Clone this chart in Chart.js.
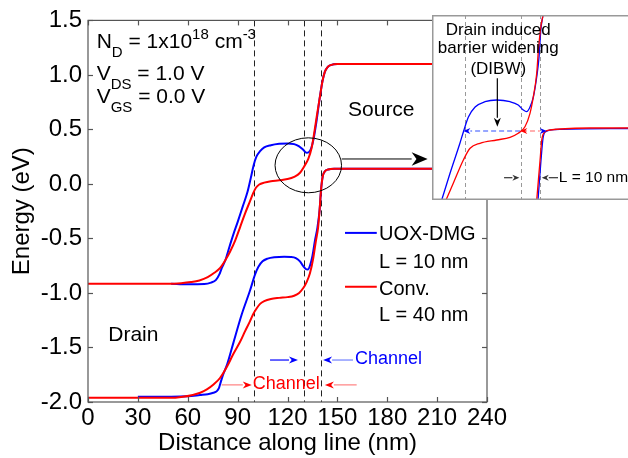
<!DOCTYPE html>
<html>
<head>
<meta charset="utf-8">
<script src="https://cdn.jsdelivr.net/npm/chart.js@4.4.1/dist/chart.umd.min.js"></script>
<style>
    html, body { margin: 0; padding: 0; background: #fff; }
    #wrap { position: relative; width: 628px; height: 458px; overflow: hidden; }
    #main { position: absolute; left: 0; top: 0; }
    #inset { position: absolute; left: 432px; top: 15px; }
</style>
</head>
<body>
<div id="wrap">
    <canvas id="main" width="628" height="458"></canvas>
    <canvas id="inset" width="196" height="185"></canvas>
</div>
<script>
// === DATA (main plot: distance in nm, energy in eV) ===
const convCB = [
    [0, -0.915], [48, -0.915], [56, -0.91], [62, -0.9], [67, -0.885], [72, -0.855],
    [76, -0.815], [79.5, -0.77], [82.6, -0.7], [85.5, -0.62], [88.5, -0.52], [91.4, -0.4],
    [94.5, -0.27], [97.4, -0.16], [99.5, -0.08], [101, -0.035], [103, -0.005], [106, 0.012],
    [110, 0.025], [115, 0.033], [120, 0.045], [124, 0.065], [127.4, 0.1], [130, 0.16],
    [132.5, 0.23], [134.5, 0.33], [136.2, 0.48], [137.8, 0.64], [139.5, 0.8], [141, 0.94],
    [142.5, 1.03], [144, 1.07], [146, 1.09], [150, 1.1], [240, 1.1]
];
const uoxCB = [
    [50, -0.915], [60, -0.92], [70, -0.918], [74, -0.905], [77, -0.88], [79, -0.83],
    [80.5, -0.77], [82.6, -0.7], [85, -0.58], [87.5, -0.46], [90, -0.35], [93, -0.21],
    [96, -0.07], [98, 0.06], [99.6, 0.17], [101.3, 0.25], [103.5, 0.3], [106, 0.335],
    [110, 0.355], [115, 0.368], [120, 0.372], [124, 0.365], [127, 0.345], [129.3, 0.315],
    [131.5, 0.285], [132.8, 0.29], [134.3, 0.33], [135.8, 0.42], [137.3, 0.56], [139.5, 0.8],
    [141, 0.94], [142.5, 1.03], [144, 1.07], [146, 1.09], [150, 1.1], [240, 1.1]
];
const convVB = [
    [0, -1.962], [50, -1.962], [56, -1.954], [63, -1.935], [67.5, -1.915], [71.5, -1.885],
    [75.5, -1.84], [79.4, -1.78], [83.8, -1.67], [87.4, -1.56], [91.4, -1.45], [94.5, -1.35],
    [97.4, -1.26], [99.5, -1.19], [101.5, -1.14], [103.5, -1.1], [106, -1.075], [110, -1.055],
    [115, -1.045], [120, -1.038], [124, -1.025], [127, -1.0], [129.5, -0.955], [131.5, -0.9],
    [133.5, -0.82], [135.5, -0.68], [137, -0.53], [138.4, -0.4], [139.3, -0.24], [140.2, -0.05],
    [141.2, 0.07], [142.5, 0.115], [144.5, 0.133], [148, 0.14], [240, 0.14]
];
const uoxVB = [
    [30, -1.952], [50, -1.952], [60, -1.948], [67.4, -1.936], [72, -1.928], [75.4, -1.915],
    [77.5, -1.9], [78.8, -1.87], [79.8, -1.82], [81, -1.76], [83.8, -1.65], [87.4, -1.46],
    [92.4, -1.2], [97.4, -0.98], [100.5, -0.83], [102.5, -0.76], [105, -0.71], [108, -0.685],
    [112, -0.672], [118, -0.668], [122, -0.67], [125, -0.68], [127.5, -0.71], [129.5, -0.755],
    [131, -0.78], [132.2, -0.785], [133.5, -0.75], [135, -0.66], [136.5, -0.52], [138, -0.4],
    [139.3, -0.24], [140.2, -0.05], [141.2, 0.07], [142.5, 0.115], [144.5, 0.133], [148, 0.14],
    [240, 0.14]
];
const channelEdges = [100, 130, 140];
const xRange = [0, 240];
const yRange = [-2, 1.5];

// === DATA (inset, zoomed barrier region) ===
const insetUoxCB = [
    [87.5, 0], [92, 0.27], [97.3, 0.57], [99.1, 0.68], [101.8, 0.83], [105.4, 0.93],
    [110.7, 0.983], [117, 1.0], [124.1, 0.983], [128.5, 0.95], [131.2, 0.9], [133, 0.883],
    [134.8, 0.93], [136.6, 1.03], [138.4, 1.23], [139.6, 1.42], [140.6, 1.7], [141.6, 1.83],
    [144, 2.0]
];
const insetConvCB = [
    [89.8, 0], [93.7, 0.167], [99.1, 0.4], [102.7, 0.517], [108, 0.567], [117, 0.6],
    [124.1, 0.627], [128.5, 0.667], [132.1, 0.733], [134.8, 0.867], [136.6, 1.033],
    [138.4, 1.267], [139.3, 1.5], [140.6, 1.73], [141.6, 1.83], [144, 2.0]
];
const insetConvVB = [
    [138.4, 0], [140.2, 0.4], [141.1, 0.6], [142.9, 0.683], [145.5, 0.7], [150.9, 0.71],
    [167, 0.72], [188, 0.72]
];
const insetUoxVB = [
    [139.1, 0], [140.7, 0.4], [141.8, 0.62], [143.4, 0.685], [148.2, 0.705], [188, 0.715]
];
const insetEdges = [100, 130, 140];
const insetXRange = [82.3, 187.3];
const insetYRange = [0, 1.85];

const BLUE = "#0000ff";
const RED = "#ff0000";
const AXIS = "#555";
const FONT = "'Liberation Sans', Arial, sans-serif";

Chart.defaults.font.family = FONT;
Chart.defaults.color = "#000";

const toPts = (arr) => arr.map(([x, y]) => ({ x, y }));

function line(ctx, x1, y1, x2, y2) {
    ctx.beginPath();
    ctx.moveTo(x1, y1);
    ctx.lineTo(x2, y2);
    ctx.stroke();
}

// arrow with filled head at (x2, y2)
function arrow(ctx, x1, y1, x2, y2, lineColor, headColor, len, half, lw) {
    const ang = Math.atan2(y2 - y1, x2 - x1);
    const bx = x2 - Math.cos(ang) * len;
    const by = y2 - Math.sin(ang) * len;
    ctx.save();
    ctx.strokeStyle = lineColor;
    ctx.lineWidth = lw || 1;
    line(ctx, x1, y1, bx, by);
    ctx.fillStyle = headColor;
    ctx.beginPath();
    ctx.moveTo(x2, y2);
    ctx.lineTo(bx - Math.sin(ang) * half, by + Math.cos(ang) * half);
    ctx.lineTo(bx + Math.cos(ang) * len * 0.3, by + Math.sin(ang) * len * 0.3);
    ctx.lineTo(bx + Math.sin(ang) * half, by - Math.cos(ang) * half);
    ctx.closePath();
    ctx.fill();
    ctx.restore();
}

// text with sub/superscripts, parts = [[text, "n" | "sub" | "sup"]]
function richText(ctx, x, y, parts, size, subSize) {
    ctx.textBaseline = "alphabetic";
    ctx.textAlign = "left";
    let cx = x;
    parts.forEach(([t, kind]) => {
        const s = kind === "n" ? size : subSize;
        const dy = kind === "sub" ? size * 0.42 : kind === "sup" ? -size * 0.42 : 0;
        ctx.font = `${s}px ${FONT}`;
        ctx.fillText(t, cx, y + dy);
        cx += ctx.measureText(t).width;
    });
}

// === MAIN PLOT DECORATIONS ===
const mainDecor = {
    id: "mainDecor",
    beforeDatasetsDraw(chart) {
        const { ctx, chartArea: a, scales: { x } } = chart;
        ctx.save();
        ctx.strokeStyle = "#222";
        ctx.lineWidth = 1;
        ctx.setLineDash([6, 4]);
        channelEdges.forEach((v) => {
            const px = Math.round(x.getPixelForValue(v)) + 0.5;
            line(ctx, px, a.top, px, a.bottom);
        });
        ctx.restore();
    },
    afterDraw(chart) {
        const { ctx, chartArea: a, scales: { x, y } } = chart;
        const X = (v) => x.getPixelForValue(v);
        const Y = (v) => y.getPixelForValue(v);
        ctx.save();

        // frame + inward ticks
        ctx.strokeStyle = AXIS;
        ctx.lineWidth = 1.2;
        ctx.strokeRect(a.left, a.top, a.right - a.left, a.bottom - a.top);
        x.ticks.forEach((t) => {
            const px = Math.round(X(t.value)) + 0.5;
            line(ctx, px, a.bottom, px, a.bottom - 5);
            line(ctx, px, a.top, px, a.top + 5);
        });
        y.ticks.forEach((t) => {
            const py = Math.round(Y(t.value)) + 0.5;
            line(ctx, a.left, py, a.left + 5, py);
            line(ctx, a.right, py, a.right - 5, py);
        });

        // ellipse around the barrier and arrow to the inset
        ctx.strokeStyle = "#000";
        ctx.lineWidth = 1;
        ctx.beginPath();
        ctx.ellipse(X(132.5), Y(0.171), X(152.5) - X(132.5), Y(0) - Y(0.252), 0, 0, Math.PI * 2);
        ctx.stroke();
        arrow(ctx, X(152.6), Y(0.229), X(204.3), Y(0.229), "#000", "#000", 16, 6.7, 1);

        // parameter block
        ctx.fillStyle = "#000";
        richText(ctx, X(5.2), Y(1.245), [["N", "n"], ["D", "sub"], [" = 1x10", "n"], ["18", "sup"], [" cm", "n"], ["-3", "sup"]], 21, 15);
        richText(ctx, X(5.2), Y(0.956), [["V", "n"], ["DS", "sub"], [" = 1.0 V", "n"]], 21, 15);
        richText(ctx, X(5.2), Y(0.742), [["V", "n"], ["GS", "sub"], [" = 0.0 V", "n"]], 21, 15);

        ctx.font = `21px ${FONT}`;
        ctx.fillText("Source", X(156.4), Y(0.62));
        ctx.fillText("Drain", X(12.2), Y(-1.44));

        // legend
        ctx.lineWidth = 2;
        ctx.strokeStyle = BLUE;
        line(ctx, X(154.6), Y(-0.449), X(173.7), Y(-0.449));
        ctx.strokeStyle = RED;
        line(ctx, X(154.6), Y(-0.943), X(173.7), Y(-0.943));
        ctx.font = `20px ${FONT}`;
        ctx.textBaseline = "middle";
        ctx.fillStyle = "#000";
        ctx.fillText("UOX-DMG", X(175), Y(-0.464));
        ctx.fillText("L = 10 nm", X(175), Y(-0.72));
        ctx.fillText("Conv.", X(175), Y(-0.964));
        ctx.fillText("L = 40 nm", X(175), Y(-1.209));

        // channel markers
        arrow(ctx, X(109.5), Y(-1.615), X(126.3), Y(-1.615), BLUE, BLUE, 9, 3.5, 1.2);
        arrow(ctx, X(159.4), Y(-1.615), X(141.4), Y(-1.615), "#7080ff", BLUE, 9, 3.5, 1.2);
        arrow(ctx, X(80.4), Y(-1.843), X(98.5), Y(-1.843), "#ff8080", RED, 9, 3.5, 1.2);
        arrow(ctx, X(161.6), Y(-1.843), X(142.5), Y(-1.843), "#ff8080", RED, 9, 3.5, 1.2);
        ctx.font = `18px ${FONT}`;
        ctx.fillStyle = BLUE;
        ctx.fillText("Channel", X(160.6), Y(-1.605));
        ctx.fillStyle = RED;
        ctx.fillText("Channel", X(99.1), Y(-1.834));

        ctx.restore();
    }
};

new Chart(document.getElementById("main"), {
    type: "line",
    data: {
        datasets: [
            { label: "Conv. CB", data: toPts(convCB), borderColor: RED },
            { label: "Conv. VB", data: toPts(convVB), borderColor: RED },
            { label: "UOX-DMG CB", data: toPts(uoxCB), borderColor: BLUE },
            { label: "UOX-DMG VB", data: toPts(uoxVB), borderColor: BLUE }
        ]
    },
    options: {
        responsive: false,
        animation: false,
        devicePixelRatio: 1,
        layout: { padding: { left: 0, right: 141, top: 19, bottom: 0 } },
        plugins: { legend: { display: false }, tooltip: { enabled: false } },
        elements: {
            point: { radius: 0 },
            line: { borderWidth: 2, fill: false, cubicInterpolationMode: "monotone" }
        },
        scales: {
            x: {
                type: "linear",
                min: xRange[0],
                max: xRange[1],
                ticks: { stepSize: 30, font: { size: 24 }, color: "#000", padding: 2, maxRotation: 0 },
                grid: { display: false, drawTicks: false },
                border: { display: false },
                title: { display: true, text: "Distance along line (nm)", font: { size: 24 }, color: "#000", padding: 0 },
                afterFit: (s) => { s.height = 56; }
            },
            y: {
                type: "linear",
                min: yRange[0],
                max: yRange[1],
                ticks: { stepSize: 0.5, font: { size: 24 }, color: "#000", padding: 6, callback: (v) => v.toFixed(1) },
                grid: { display: false, drawTicks: false },
                border: { display: false },
                title: { display: true, text: "Energy (eV)", font: { size: 24 }, color: "#000", padding: { top: 8, bottom: 0 } },
                afterFit: (s) => { s.width = 88; }
            }
        }
    },
    plugins: [mainDecor]
});

// === INSET ===
const insetDecor = {
    id: "insetDecor",
    beforeDatasetsDraw(chart) {
        const { ctx, chartArea: a, scales: { x } } = chart;
        ctx.save();
        ctx.fillStyle = "#fff";
        ctx.fillRect(0, 0, chart.width, chart.height);
        ctx.strokeStyle = "#999";
        ctx.lineWidth = 1;
        ctx.setLineDash([4, 3]);
        insetEdges.forEach((v) => {
            const px = Math.round(x.getPixelForValue(v)) + 0.5;
            line(ctx, px, a.top, px, a.bottom);
        });
        ctx.restore();
    },
    afterDraw(chart) {
        const { ctx, scales: { x, y } } = chart;
        const X = (v) => x.getPixelForValue(v);
        const Y = (v) => y.getPixelForValue(v);
        ctx.save();

        // dashed barrier-width arrows
        ctx.setLineDash([5, 3]);
        arrow(ctx, X(129.5), Y(0.69), X(99.1), Y(0.69), "#3050ff", BLUE, 7, 3, 1.2);
        arrow(ctx, X(130.5), Y(0.69), X(143.8), Y(0.69), "#ff6060", BLUE, 7, 3, 1.2);
        ctx.setLineDash([]);
        arrow(ctx, X(138), Y(0.69), X(129.6), Y(0.69), "rgba(0,0,0,0)", RED, 7, 3, 1.2);

        // DIBW label and pointer
        ctx.fillStyle = "#000";
        ctx.font = `17px ${FONT}`;
        ctx.textAlign = "center";
        ctx.textBaseline = "middle";
        ctx.fillText("Drain induced", X(117.8), Y(1.70));
        ctx.fillText("barrier widening", X(117.8), Y(1.512));
        ctx.fillText("(DIBW)", X(117.8), Y(1.31));
        arrow(ctx, X(117.3), Y(1.217), X(117.3), Y(0.733), "#000", "#000", 9, 3.5, 1.2);

        // L = 10 nm marker
        arrow(ctx, X(120.9), Y(0.223), X(129.1), Y(0.223), "#333", "#333", 7, 3, 1.2);
        arrow(ctx, X(149.8), Y(0.223), X(141.1), Y(0.223), "#333", "#333", 7, 3, 1.2);
        ctx.textAlign = "left";
        ctx.font = `15.5px ${FONT}`;
        ctx.fillText("L = 10 nm", X(150.2), Y(0.223));

        // border (right side runs off the page)
        ctx.strokeStyle = "#999";
        ctx.lineWidth = 1.5;
        ctx.strokeRect(0.75, 0.75, chart.width + 10, chart.height - 1.5);
        ctx.restore();
    }
};

new Chart(document.getElementById("inset"), {
    type: "line",
    data: {
        datasets: [
            { label: "Conv. CB", data: toPts(insetConvCB), borderColor: RED },
            { label: "Conv. VB", data: toPts(insetConvVB), borderColor: RED },
            { label: "UOX-DMG CB", data: toPts(insetUoxCB), borderColor: BLUE },
            { label: "UOX-DMG VB", data: toPts(insetUoxVB), borderColor: BLUE }
        ]
    },
    options: {
        responsive: false,
        animation: false,
        devicePixelRatio: 1,
        layout: { padding: 0 },
        plugins: { legend: { display: false }, tooltip: { enabled: false } },
        elements: {
            point: { radius: 0 },
            line: { borderWidth: 1.3, fill: false, cubicInterpolationMode: "monotone" }
        },
        scales: {
            x: { type: "linear", display: false, min: insetXRange[0], max: insetXRange[1] },
            y: { type: "linear", display: false, min: insetYRange[0], max: insetYRange[1] }
        }
    },
    plugins: [insetDecor]
});
</script>
</body>
</html>
